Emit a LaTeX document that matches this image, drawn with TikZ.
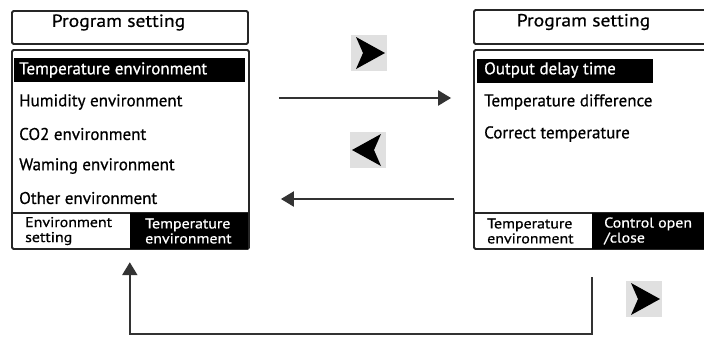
\documentclass[tikz,border=0pt]{standalone}
\usepackage{fontspec}
\setmainfont{PT Sans}
\newfontfamily\scrfont[FakeBold=0.7]{PT Sans}
\newfontfamily\widefont[FakeBold=0.7, FakeStretch=1.12]{PT Sans}
\usetikzlibrary{arrows.meta}
\begin{document}
\begin{tikzpicture}[x=1pt, y=-1pt,
    frame/.style={draw=black!85, line width=1.8pt, rounded corners=1.5pt, inner sep=0pt},
    item/.style={anchor=west, inner sep=0pt, font=\scrfont\fontsize{17}{17}\selectfont},
    head/.style={inner sep=0pt, font=\widefont\fontsize{17.5}{17.5}\selectfont},
    tab/.style={anchor=west, align=left, inner sep=0pt, font=\widefont\fontsize{14.2}{15}\selectfont},
    sel/.style={fill=black, inner sep=0pt, minimum height=24pt},
    arr/.style={-{Triangle[length=13pt,width=15pt]}, line width=2.2pt, black!80},
    key/.style={fill=black!12, minimum size=36pt, inner sep=0pt}]
\clip (0,0) rectangle (704,338);
\fill[white] (0,0) rectangle (704,338);

% left screen
\node[frame, minimum width=236pt, minimum height=33pt] (lt) at (130,27.5) {};
\node[head] (ltxt) at (118.5,22.5) {Program setting};
\node[frame, minimum width=237pt, minimum height=199pt] (lbox) at (130.5,149.5) {};
\node[sel, minimum width=231pt] (lsel) at (129.5,70) {};
\node[item, text=white] (l0) at (19,70) {Temperature environment};
\foreach \i/\t in {1/Humidity environment, 2/CO2 environment, 3/Waming environment, 4/Other environment}
    \node[item] (l\i) at (19,70+32*\i) {\t};
\draw[line width=1.8pt, black!85] (lbox.west |- 0,213) -- (lbox.east |- 0,213);
\node[fill=black, minimum width=118pt, minimum height=36pt, inner sep=0pt] (ltab2) at (189,231) {};
\node[tab] (ltab1) at (25,231) {Environment\\setting};
\node[tab, text=white] (ltab2txt) at (145,231) {Temperature\\environment};

% right screen
\node[frame, minimum width=232pt, minimum height=34pt] (rt) at (590,27) {};
\node[head] (rtxt) at (583.5,22) {Program setting};
\node[frame, minimum width=232pt, minimum height=199pt] (rbox) at (590,149.5) {};
\node[sel, minimum width=176pt] (rsel) at (565,70.5) {};
\node[item, text=white] (r0) at (484,70) {Output delay time};
\foreach \i/\t in {1/Temperature difference, 2/Correct temperature}
    \node[item] (r\i) at (484,70+32*\i) {\t};
\draw[line width=1.8pt, black!85] (rbox.west |- 0,213) -- (rbox.east |- 0,213);
\node[fill=black, minimum width=116pt, minimum height=36pt, inner sep=0pt] (rtab2) at (650,231) {};
\node[tab] (rtab1) at (487,231) {Temperature\\environment};
\node[tab, text=white] (rtab2txt) at (604,231) {Control open\\/close};

% keys
\node[key] (k1) at (369,53) {};
\node[key] (k2) at (368,150) {};
\node[key] (k3) at (644,299) {};
\foreach \k/\s in {k1/1, k2/-1, k3/1}
    \fill[shift={(\k.center)}, xscale=\s] (16,0) -- (-13,-16) -- (-6,0) -- (-13,16) -- cycle;

% arrows
\coordinate (lp) at (592,277);
\draw[arr, shorten <=29pt, shorten >=22pt] (lbox.east |- 0,98) -- (rbox.west |- 0,98);
\draw[arr, shorten <=19pt, shorten >=31pt] (rbox.west |- 0,199) -- (lbox.east |- 0,199);
\draw[arr, shorten >=13pt] (lp) -- (lp |- 0,334) -| (ltab2.south west);
\end{tikzpicture}
\end{document}
